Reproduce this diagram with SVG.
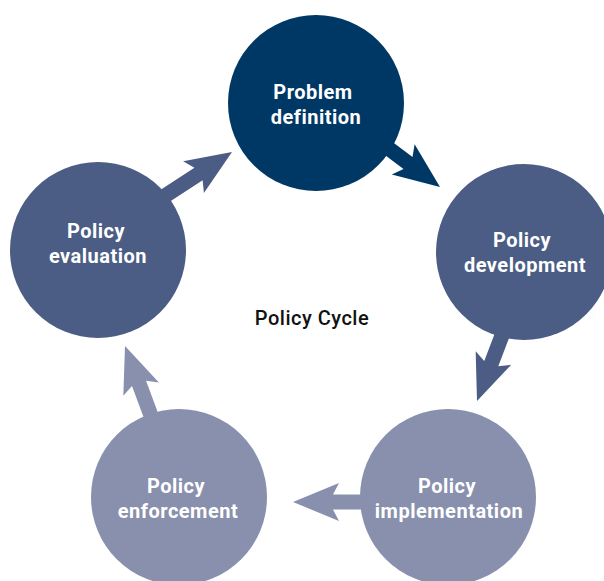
<svg xmlns="http://www.w3.org/2000/svg" width="604" height="581" viewBox="0 0 604 581">
<style>
.lbl{font-family:Roboto,"Liberation Sans",sans-serif;font-weight:bold;font-size:20px;letter-spacing:0.5px;fill:#ffffff;text-anchor:middle}
.title{font-family:Roboto,"Liberation Sans",sans-serif;font-weight:500;font-size:20px;letter-spacing:0.5px;fill:#111111;text-anchor:middle}
.c1{fill:#003865}
.c2{fill:#4b5d84}
.c3{fill:#8890ae}
</style>
<defs>
<polygon id="arr" points="-90,-7.5 -40,-7.5 -46,-19 0,0 -46,19 -40,7.5 -90,7.5"/>
</defs>
<rect width="604" height="581" fill="#ffffff"/>
<g id="connectors">
<use href="#arr" class="c1" transform="translate(440,187) rotate(36.9)"/>
<use href="#arr" class="c2" transform="translate(477,401) rotate(110.9)"/>
<use href="#arr" class="c3" transform="translate(293,502) rotate(180)"/>
<use href="#arr" class="c3" transform="translate(125,346) rotate(249.5)"/>
<use href="#arr" class="c2" transform="translate(232,152) rotate(-33.2)"/>
</g>
<g id="problem-definition">
<circle cx="316" cy="103" r="88" class="c1"/>
<text class="lbl" x="313" y="99">Problem</text>
<text class="lbl" x="316" y="124">definition</text>
</g>
<g id="policy-development">
<circle cx="524" cy="252" r="88" class="c2"/>
<text class="lbl" x="522" y="247">Policy</text>
<text class="lbl" x="525" y="272">development</text>
</g>
<g id="policy-implementation">
<circle cx="448" cy="497" r="88" class="c3"/>
<text class="lbl" x="447" y="493">Policy</text>
<text class="lbl" x="449" y="518">implementation</text>
</g>
<g id="policy-enforcement">
<circle cx="179" cy="497" r="88" class="c3"/>
<text class="lbl" x="176" y="493">Policy</text>
<text class="lbl" x="178" y="518">enforcement</text>
</g>
<g id="policy-evaluation">
<circle cx="98" cy="250" r="88" class="c2"/>
<text class="lbl" x="96" y="238">Policy</text>
<text class="lbl" x="98" y="263">evaluation</text>
</g>
<text class="title" x="312" y="325">Policy Cycle</text>
</svg>
